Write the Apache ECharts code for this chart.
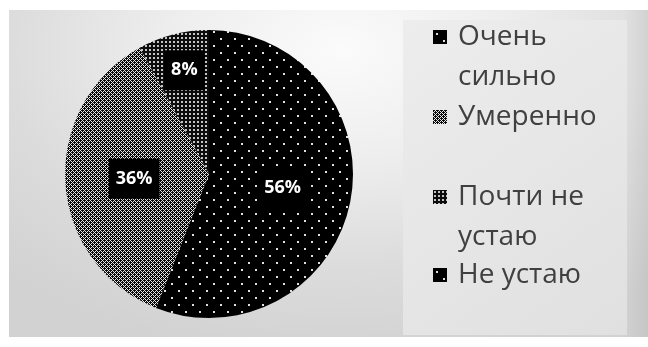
<!DOCTYPE html>
<html>
<head>
<meta charset="utf-8">
<script src="https://cdn.jsdelivr.net/npm/echarts@6/dist/echarts.min.js"></script>
<style>
  html, body { margin: 0; padding: 0; background: #ffffff; }
  #bg {
    position: absolute; left: 9px; top: 10px; width: 639px; height: 327px;
    background:
      linear-gradient(to right, rgba(0,0,0,0) 0%, rgba(0,0,0,0) 96%, rgba(0,0,0,0.06) 100%),
      radial-gradient(ellipse 75% 95% at 52% 12%, #fbfbfb 0%, #eeeeee 35%, #dcdcdc 70%, #d2d2d2 100%);
  }
  #chart { position: absolute; left: 0; top: 0; width: 648px; height: 347px; }
</style>
</head>
<body>
<div id="bg"></div>
<div id="chart"></div>
<script>
// Survey answers and their shares (percent)
const categories = ['Очень сильно', 'Умеренно', 'Почти не устаю', 'Не устаю'];
const shares = [56, 36, 8, 0];
// Legend text split the way it wraps in the side panel
const legendLines = [['Очень', 'сильно'], ['Умеренно'], ['Почти не', 'устаю'], ['Не устаю']];

// Small repeating tiles used as hatch fills
function makeTile(size, draw) {
  const c = document.createElement('canvas');
  c.width = c.height = size;
  const g = c.getContext('2d');
  draw(g, size);
  return c;
}
const sparseDots = makeTile(14, (g, s) => {
  g.fillStyle = '#000'; g.fillRect(0, 0, s, s);
  g.fillStyle = '#e0e0e0';
  g.fillRect(3, 3, 2, 2);
  g.fillRect(10, 10, 2, 2);
});
const diamondCheck = makeTile(4, (g, s) => {
  for (let x = 0; x < s; x++) {
    for (let y = 0; y < s; y++) {
      const light = ((x + y) % 4 === 2) || (((x - y) % 4 + 4) % 4 === 2);
      g.fillStyle = light ? '#e8e8e8' : '#0a0a0a';
      g.fillRect(x, y, 1, 1);
    }
  }
});
const denseDots = makeTile(4, (g, s) => {
  g.fillStyle = '#0c0c0c'; g.fillRect(0, 0, s, s);
  g.fillStyle = '#c4c4c4';
  g.fillRect(1, 1, 2, 2);
});
const fills = [sparseDots, diamondCheck, denseDots, sparseDots].map(img => ({ image: img, repeat: 'repeat' }));

const FONT = 'Open Sans';
const LINE_H = 40;
const iconCenters = [37, 117, 197, 275];

const chart = echarts.init(document.getElementById('chart'), null, { renderer: 'canvas' });

// One legend block per answer so each first line sits level with its swatch;
// wrapped answers get a blank leading line so the swatch lines up with line one.
const legends = categories.map((name, i) => {
  const lines = legendLines[i].length > 1 ? ['\u00a0'].concat(legendLines[i]) : legendLines[i];
  const n = lines.length;
  const blockTop = 7 - (n * LINE_H) / 2;
  return {
    data: [name],
    orient: 'vertical',
    left: 433,
    top: iconCenters[i] - 7 + blockTop,
    padding: 0,
    icon: 'rect',
    itemWidth: 14,
    itemHeight: 14,
    selectedMode: false,
    formatter: () => lines.join('\n'),
    textStyle: {
      fontFamily: FONT,
      fontSize: 28,
      color: '#404040',
      lineHeight: LINE_H,
      padding: [0, 0, 0, 6]
    }
  };
});

chart.setOption({
  animation: false,
  graphic: [{
    type: 'rect',
    z: 0,
    shape: { x: 403, y: 20, width: 224, height: 315 },
    style: {
      fill: new echarts.graphic.LinearGradient(0, 0, 1, 1, [
        { offset: 0, color: '#ededed' },
        { offset: 1, color: '#e0e0e0' }
      ])
    },
    silent: true
  }],
  legend: legends,
  series: [{
    type: 'pie',
    z: 3,
    center: [209, 174],
    radius: 144,
    startAngle: 90,
    clockwise: true,
    avoidLabelOverlap: false,
    emphasis: { disabled: true },
    itemStyle: { borderWidth: 0 },
    label: {
      show: true,
      position: 'inside',
      formatter: '{c}%',
      color: '#ffffff',
      fontFamily: FONT,
      fontWeight: 'bold',
      fontSize: 18,
      backgroundColor: '#000000',
      padding: [11, 7]
    },
    labelLine: { show: false },
    labelLayout: function (p) {
      if (p.dataIndex === 2) return { dx: -6, dy: -31 };
      return {};
    },
    data: categories.map((name, i) => ({
      name: name,
      value: shares[i],
      itemStyle: { color: fills[i] },
      label: { show: shares[i] > 0 }
    }))
  }]
});
</script>
</body>
</html>
